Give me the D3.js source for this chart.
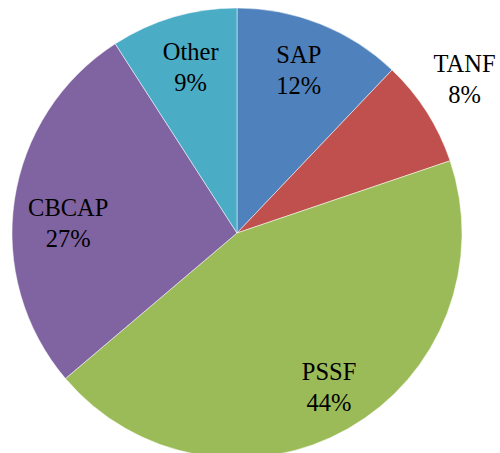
<!DOCTYPE html>
<html>
<head>
<meta charset="utf-8">
<script src="https://cdn.jsdelivr.net/npm/d3@7"></script>
<style>
  body { margin: 0; background: #fff; }
</style>
</head>
<body>
<div id="chart"></div>
<script>
// values (labels show them rounded)
var categories = ["SAP", "TANF", "PSSF", "CBCAP", "Other"];
var values = [12.1, 7.7, 44.0, 27.1, 9.1];
var colors = ["#4F81BD", "#C0504D", "#9BBB59", "#8064A2", "#4BACC6"];

var width = 500, height = 453;
var cx = 237, cy = 233, radius = 225;
var labelFont = "'Liberation Serif', Tinos, 'Noto Serif', 'Times New Roman', Times, FreeSerif, 'DejaVu Serif', serif";

// where each label sits, as a fraction of the radius (and an angle override in degrees)
var labelLayout = {
    SAP: { r: 0.74 },
    TANF: { r: 1.2 },
    PSSF: { r: 0.83 },
    CBCAP: { r: 0.75, angle: 270.5 },
    Other: { r: 0.73 }
};

var data = categories.map(function(c, i) {
    return { name: c, value: values[i], color: colors[i] };
});
var total = d3.sum(values);

var svg = d3.select("#chart").append("svg")
    .attr("width", width)
    .attr("height", height)
    .append("g")
    .attr("transform", "translate(" + cx + "," + cy + ")");

var pie = d3.pie()
    .sort(null)
    .value(function(d) { return d.value; });

var arc = d3.arc().innerRadius(0).outerRadius(radius);

var arcs = pie(data);

svg.selectAll("path.slice")
    .data(arcs)
    .enter().append("path")
    .attr("class", "slice")
    .attr("d", arc)
    .attr("fill", function(d) { return d.data.color; })
    .attr("stroke", "#ffffff")
    .attr("stroke-width", 0.5);

var labels = svg.selectAll("g.label")
    .data(arcs)
    .enter().append("g")
    .attr("class", "label")
    .attr("transform", function(d) {
        var lay = labelLayout[d.data.name];
        var a = lay.angle !== undefined ? lay.angle * Math.PI / 180 : (d.startAngle + d.endAngle) / 2;
        var r = radius * lay.r;
        return "translate(" + (r * Math.sin(a)) + "," + (-r * Math.cos(a)) + ")";
    });

labels.append("text")
    .style("font-family", labelFont)
    .style("font-size", "24.5px")
    .attr("fill", "#000")
    .attr("text-anchor", "middle")
    .attr("y", -15.3)
    .text(function(d) { return d.data.name; });

labels.append("text")
    .style("font-family", labelFont)
    .style("font-size", "24.5px")
    .attr("fill", "#000")
    .attr("text-anchor", "middle")
    .attr("y", 15.3)
    .text(function(d) { return Math.round(d.data.value / total * 100) + "%"; });
</script>
</body>
</html>
